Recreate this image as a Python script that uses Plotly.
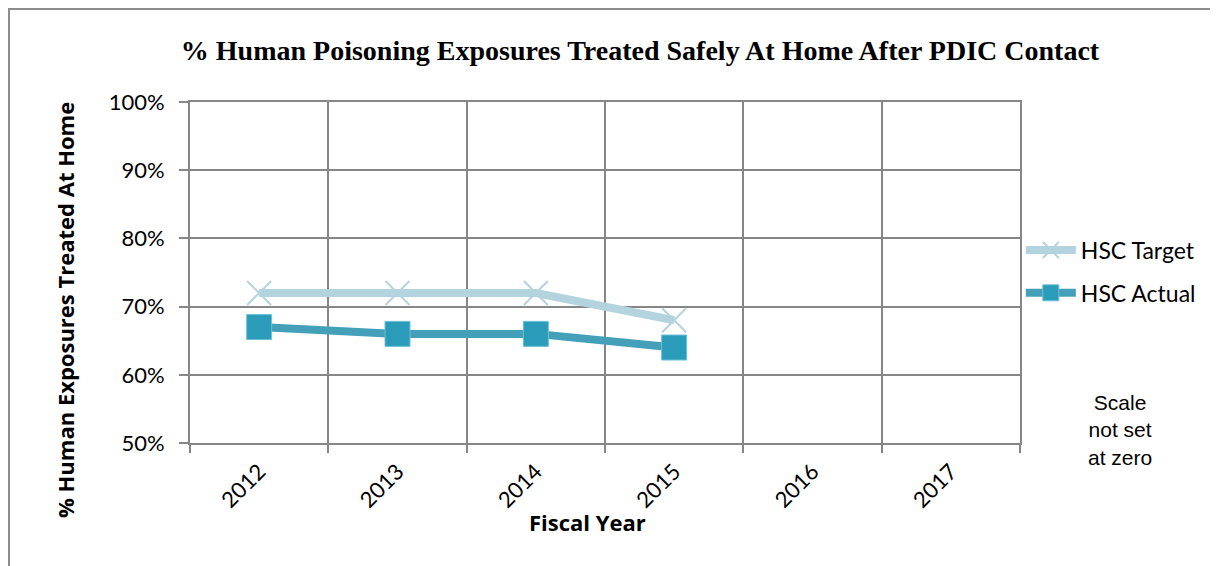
import plotly.graph_objects as go

years = ["2012", "2013", "2014", "2015", "2016", "2017"]
target_years = ["2012", "2013", "2014", "2015"]
target_vals = [72, 72, 72, 68]
actual_years = ["2012", "2013", "2014", "2015"]
actual_vals = [67, 66, 66, 64]
y_ticks = [50, 60, 70, 80, 90, 100]
y_tick_text = ["50%", "60%", "70%", "80%", "90%", "100%"]

GRID = "#868686"
TICKFONT = dict(family="Lato, Open Sans", size=22, color="black")

fig = go.Figure()
fig.add_trace(go.Scatter(
    x=target_years, y=target_vals, name="HSC Target", mode="lines+markers",
    legendgroup="t",
    line=dict(color="#B3D3DE", width=8),
    marker=dict(symbol="x-thin", size=24, line=dict(color="#B3D3DE", width=2), color="#B3D3DE"),
))
fig.add_trace(go.Scatter(
    x=actual_years, y=actual_vals, name="HSC Actual", mode="lines+markers",
    legendgroup="a",
    line=dict(color="#449FB8", width=8),
    marker=dict(symbol="square", size=25, color="#2A9CB9",
                line=dict(color="#6CC0D6", width=1)),
))

fig.update_layout(
    width=1210, height=558,
    paper_bgcolor="white", plot_bgcolor="white",
    margin=dict(l=182, r=198, t=94, b=123),
    title=dict(text="<b>% Human Poisoning Exposures Treated Safely At Home After PDIC Contact</b>",
               x=(640 - 8) / 1210, xanchor="center", y=1 - (50 - 8) / 558, yanchor="middle",
               font=dict(family="Liberation Serif", size=28, color="black")),
    showlegend=True,
    legend=dict(x=1.001, y=0.503, xanchor="left", yanchor="middle",
                font=dict(family="Lato, Open Sans", size=23, color="black"),
                itemwidth=50, tracegroupgap=10, traceorder="grouped",
                bgcolor="rgba(0,0,0,0)"),
    font=dict(family="Lato, Open Sans", color="black"),
)
fig.update_xaxes(
    type="category", categoryorder="array", categoryarray=years,
    range=[-0.5, 5.5], tickson="boundaries",
    showgrid=True, gridcolor=GRID, gridwidth=2,
    showline=True, linecolor=GRID, linewidth=2, mirror=True,
    ticks="outside", ticklen=8, tickcolor=GRID, tickwidth=2,
    tickangle=-45, tickfont=TICKFONT, ticklabelstandoff=5,
)
fig.update_yaxes(
    range=[50, 100], tickvals=y_ticks, ticktext=y_tick_text,
    showgrid=True, gridcolor=GRID, gridwidth=2,
    showline=True, linecolor=GRID, linewidth=2, mirror=True,
    ticks="outside", ticklen=9, tickcolor=GRID, tickwidth=2,
    tickfont=TICKFONT, zeroline=False, ticklabelstandoff=10,
)
# axis titles
fig.add_annotation(
    text="<b>Fiscal Year</b>", xref="paper", yref="paper",
    x=(587 - 190) / 830, y=(443 - 522) / 341, xanchor="center", yanchor="middle",
    showarrow=False, font=dict(family="Open Sans", size=22, color="black"),
)
fig.add_annotation(
    text="<b>% Human Exposures Treated At Home</b>", xref="paper", yref="paper",
    x=(65 - 190) / 830, y=(443 - 310) / 341, xanchor="center", yanchor="middle",
    textangle=-90, showarrow=False, font=dict(family="Open Sans", size=22, color="black"),
)
fig.add_annotation(
    text="Scale<br>not set<br>at zero", xref="paper", yref="paper",
    x=(1120 - 190) / 830, y=(443 - 430) / 341, xanchor="center", yanchor="middle",
    showarrow=False, font=dict(family="Liberation Sans", size=21, color="black"),
    align="center",
)
# outer chart border (only left and top visible in the frame)
fig.add_shape(type="rect", xref="paper", yref="paper",
              x0=(1 - 182) / 830, x1=1.3, y0=-0.6, y1=(435 - 1) / 341,
              line=dict(color="#8C8C8C", width=2), fillcolor="rgba(0,0,0,0)", layer="below")
fig.write_html("out.html")
